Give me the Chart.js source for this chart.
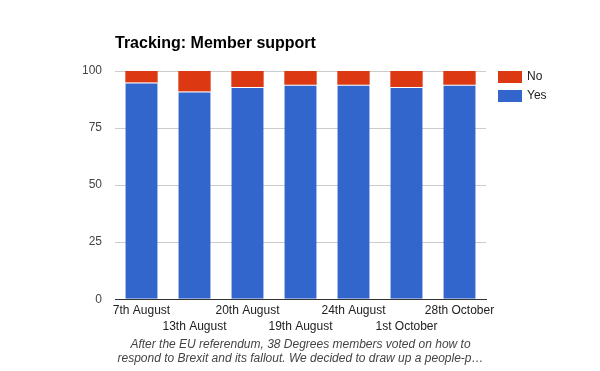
<!DOCTYPE html>
<html>
<head>
<meta charset="utf-8">
<script src="https://cdn.jsdelivr.net/npm/chart.js@4/dist/chart.umd.min.js"></script>
<style>
	body { margin: 0; background: #fff; }
	#chart { display: block; }
</style>
</head>
<body>
<canvas id="chart" width="600" height="371"></canvas>
<script>
const categories = ['7th August', '13th August', '20th August', '19th August', '24th August', '1st October', '28th October'];
const yesValues = [95, 91, 93, 94, 94, 93, 94];
const noValues = [5, 9, 7, 6, 6, 7, 6];
const yTicks = [0, 25, 50, 75, 100];
const caption = [
	'After the EU referendum, 38 Degrees members voted on how to',
	'respond to Brexit and its fallout. We decided to draw up a people-p\u2026'
];

const FONT = 'Arial, "Liberation Sans", sans-serif';

//Легенда справа, как в оригинале (No сверху, Yes снизу)
const sideLegend = {
	id: 'sideLegend',
	afterDraw(chart) {
		let ctx = chart.ctx;
		let area = chart.chartArea;
		let items = chart.data.datasets.slice().reverse();

		ctx.save();
		ctx.font = '12px ' + FONT;
		ctx.textBaseline = 'middle';
		items.forEach((ds, index) => {
			let x = area.right + 12;
			let y = area.top + index * 19;
			ctx.fillStyle = ds.backgroundColor;
			ctx.fillRect(x, y, 24, 12);
			ctx.fillStyle = '#222';
			ctx.fillText(ds.label, x + 29, y + 6);
		});
		ctx.restore();
	}
};

new Chart(document.getElementById('chart'), {
	type: 'bar',
	data: {
		labels: categories,
		datasets: [
			{
				label: 'Yes',
				data: yesValues,
				backgroundColor: '#3366cc',
				borderColor: '#ffffff',
				borderWidth: { top: 1, left: 0, right: 0, bottom: 0 },
				borderSkipped: false,
				categoryPercentage: 1,
				barPercentage: 0.61
			},
			{
				label: 'No',
				data: noValues,
				backgroundColor: '#dc3912',
				borderWidth: 0,
				categoryPercentage: 1,
				barPercentage: 0.61
			}
		]
	},
	options: {
		responsive: false,
		animation: false,
		layout: { padding: { top: 0, left: 75, right: 114, bottom: 5 } },
		scales: {
			x: {
				stacked: true,
				grid: { display: false, drawTicks: false },
				border: { color: '#333' },
				ticks: {
					autoSkip: false,
					maxRotation: 0,
					padding: 3,
					color: '#222',
					font: { family: FONT, size: 12, lineHeight: 1.333 },
					callback: function(value, index) {
						let label = this.getLabelForValue(value);
						return index % 2 ? ['', label] : label;
					}
				},
				afterFit(scale) {
					scale.paddingLeft = 0;
					scale.paddingRight = 0;
				}
			},
			y: {
				stacked: true,
				min: 0,
				max: 100,
				afterBuildTicks(scale) {
					scale.ticks = yTicks.map((v) => ({ value: v }));
				},
				grid: {
					drawTicks: false,
					color: (ctx) => ctx.tick && ctx.tick.value === 0 ? '#333' : '#cccccc'
				},
				border: { display: false },
				ticks: {
					padding: 13,
					color: '#444',
					font: { family: FONT, size: 12 }
				},
				afterFit(scale) {
					scale.width = 40;
				}
			}
		},
		plugins: {
			legend: { display: false },
			tooltip: { enabled: false },
			title: {
				display: true,
				text: 'Tracking: Member support',
				align: 'start',
				fullSize: false,
				color: '#000',
				font: { family: FONT, size: 16, weight: 'bold' },
				padding: { top: 34.4, bottom: 17.4 }
			},
			subtitle: {
				display: true,
				text: caption,
				position: 'bottom',
				fullSize: false,
				color: '#444',
				font: { family: FONT, size: 12, style: 'italic' },
				padding: { top: 0, bottom: 0 }
			}
		}
	},
	plugins: [sideLegend]
});
</script>
</body>
</html>
